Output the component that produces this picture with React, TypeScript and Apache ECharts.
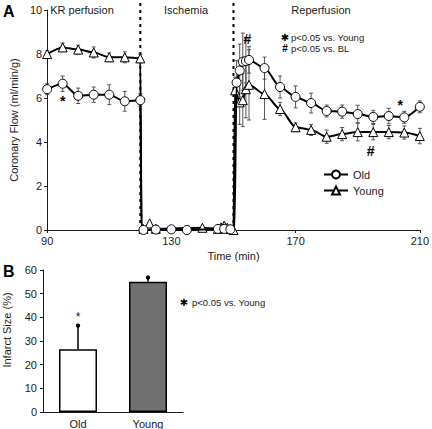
import React, { useEffect, useRef } from "react";
import * as echarts from "echarts";

// ---------- Panel A data ----------
const timeTicks = [90, 130, 170, 210];
const phaseLabels = ["KR perfusion", "Ischemia", "Reperfusion"];
const ischemiaBounds = [120, 150];
const connectorTimes = [120.4, 150.3];

const oldTime = [90, 95, 100, 105, 110, 115, 120, 120.4, 121, 125, 130, 135, 145, 147, 149, 150.3, 151, 152, 153, 154, 155, 160, 165, 170, 175, 180, 185, 190, 195, 200, 205, 210];
const oldFlow = [6.4, 6.65, 6.1, 6.15, 6.15, 5.85, 5.9, 0, 0, 0.02, 0.03, 0, 0.05, 0.05, 0.03, 0, 6.7, 7.25, 7.65, 7.68, 7.73, 7.36, 6.5, 6.05, 5.77, 5.41, 5.38, 5.27, 5.14, 5.18, 5.12, 5.6];
const oldErr = [0.25, 0.35, 0.35, 0.35, 0.45, 0.45, 0.3, 0, 0, 0, 0, 0, 0, 0, 0, 0, 1.0, 1.2, 1.3, 1.0, 0.6, 0.5, 0.5, 0.5, 0.45, 0.27, 0.3, 0.4, 0.3, 0.35, 0.27, 0.27];

const youngTime = [90, 95, 100, 105, 110, 115, 120, 120.4, 121, 123, 125, 140, 145, 146, 147, 148, 149, 150, 150.5, 152, 153, 154, 155, 160, 165, 170, 175, 180, 185, 190, 195, 200, 205, 210];
const youngFlow = [8.0, 8.3, 8.2, 8.07, 7.85, 7.85, 7.8, 0, 0.05, 0.3, 0.05, 0.1, 0.05, 0.12, 0.2, 0.1, 0.05, 0, 6.35, 5.8, 5.9, 6.4, 6.6, 6.18, 5.5, 4.67, 4.55, 4.24, 4.36, 4.45, 4.45, 4.45, 4.43, 4.27];
const youngErr = [0.15, 0.2, 0.2, 0.25, 0.2, 0.25, 0.2, 0, 0, 0, 0, 0, 0, 0, 0, 0, 0, 0, 0.6, 1.0, 1.2, 1.3, 1.6, 1.15, 0.3, 0.2, 0.25, 0.3, 0.3, 0.4, 0.35, 0.3, 0.3, 0.35];

const annoTime = [95, 154.5, 203.7, 194.2];
const annoValue = [5.85, 8.7, 5.7, 3.6];
const annoLabels = ["*", "#", "*", "#"];

// ---------- Panel B data ----------
const groups = ["Old", "Young"];
const infarct = [26.5, 55];
const infarctErr = [10, 1.8];
const barColors = ["#ffffff", "#717171"];
const infarctMarks = ["*", ""];

const FONT = "Liberation Sans, Arial, sans-serif";
const INK = "#1a1a1a";

export default function App() {
  const ref = useRef<HTMLDivElement>(null);

  useEffect(() => {
    document.body.style.margin = "0";
    const chart = echarts.init(ref.current!, null, { renderer: "svg" });

    const mkLine = (t: number[], v: number[]) =>
      t.map((x, i) =>
        connectorTimes.includes(x) ? { value: [x, v[i]], symbol: "none" } : { value: [x, v[i]] }
      );
    const mkErr = (t: number[], v: number[], e: number[]) =>
      t.map((x, i) => [x, v[i], e[i]]).filter((d) => d[2] > 0);

    const errRender = (params: any, api: any) => {
      const x = api.value(0), y = api.value(1), e = api.value(2);
      const top = api.coord([x, y + e]);
      const bot = api.coord([x, y - e]);
      const w = 2;
      const st = { stroke: "#444", lineWidth: 0.9 };
      return {
        type: "group",
        children: [
          { type: "line", shape: { x1: top[0], y1: top[1], x2: bot[0], y2: bot[1] }, style: st },
          { type: "line", shape: { x1: top[0] - w, y1: top[1], x2: top[0] + w, y2: top[1] }, style: st },
          { type: "line", shape: { x1: bot[0] - w, y1: bot[1], x2: bot[0] + w, y2: bot[1] }, style: st },
        ],
      };
    };

    const axisCommon = {
      axisLine: { show: true, lineStyle: { color: INK, width: 1 } },
      axisTick: { show: true, inside: false, length: 3, lineStyle: { color: INK } },
      axisLabel: { color: INK, fontSize: 11, fontFamily: FONT },
      splitLine: { show: false },
    };

    const symStyle = { color: "#fff", borderColor: "#000", borderWidth: 1 };

    chart.setOption({
      animation: false,
      textStyle: { fontFamily: FONT },
      grid: [
        { left: 38, right: 9, top: 10, height: 220 },
        { left: 43, width: 140, top: 270, height: 142 },
      ],
      xAxis: [
        {
          gridIndex: 0,
          type: "value",
          min: timeTicks[0],
          max: timeTicks[timeTicks.length - 1],
          interval: timeTicks[1] - timeTicks[0],
          name: "Time (min)",
          nameLocation: "middle",
          nameGap: 15,
          nameTextStyle: { color: INK, fontSize: 11, fontFamily: FONT },
          ...axisCommon,
          axisLabel: { ...axisCommon.axisLabel, margin: 5 },
        },
        {
          gridIndex: 1,
          type: "category",
          data: groups,
          ...axisCommon,
          axisTick: { show: false },
          axisLabel: { ...axisCommon.axisLabel, margin: 6 },
        },
      ],
      yAxis: [
        {
          gridIndex: 0,
          type: "value",
          min: 0,
          max: 10,
          interval: 2,
          name: "Coronary Flow (ml/min/g)",
          nameLocation: "middle",
          nameGap: 23,
          nameTextStyle: { color: INK, fontSize: 11, fontFamily: FONT },
          ...axisCommon,
          axisLabel: { ...axisCommon.axisLabel, margin: 5 },
        },
        {
          gridIndex: 1,
          type: "value",
          min: 0,
          max: 60,
          interval: 10,
          ...axisCommon,
          axisLabel: { ...axisCommon.axisLabel, margin: 6 },
        },
      ],
      legend: {
        data: ["Old", "Young"],
        orient: "vertical",
        left: 318,
        top: 164,
        itemWidth: 24,
        itemHeight: 10,
        itemGap: 5,
        textStyle: { color: INK, fontSize: 11, fontFamily: FONT, fontWeight: "normal" },
      },
      series: [
        {
          type: "custom",
          name: "dividers",
          xAxisIndex: 0,
          yAxisIndex: 0,
          z: 1,
          silent: true,
          data: ischemiaBounds.map((b) => [b, 0]),
          renderItem: (params: any, api: any) => {
            const p = api.coord([api.value(0), 0]);
            return {
              type: "line",
              shape: { x1: p[0], y1: p[1], x2: p[0], y2: 0 },
              style: { stroke: "#000", lineWidth: 2, lineDash: [3, 4] },
            };
          },
        },
        {
          type: "custom",
          name: "oldErr",
          xAxisIndex: 0,
          yAxisIndex: 0,
          z: 2,
          silent: true,
          data: mkErr(oldTime, oldFlow, oldErr),
          renderItem: errRender,
        },
        {
          type: "custom",
          name: "youngErr",
          xAxisIndex: 0,
          yAxisIndex: 0,
          z: 2,
          silent: true,
          data: mkErr(youngTime, youngFlow, youngErr),
          renderItem: errRender,
        },
        {
          type: "line",
          name: "Young",
          xAxisIndex: 0,
          yAxisIndex: 0,
          z: 3,
          data: mkLine(youngTime, youngFlow),
          symbol: "triangle",
          symbolSize: 9,
          smooth: 0.25,
          smoothMonotone: "x",
          lineStyle: { color: "#000", width: 2 },
          itemStyle: symStyle,
        },
        {
          type: "line",
          name: "Old",
          xAxisIndex: 0,
          yAxisIndex: 0,
          z: 4,
          data: mkLine(oldTime, oldFlow),
          symbol: "circle",
          symbolSize: 9,
          smooth: 0.25,
          smoothMonotone: "x",
          lineStyle: { color: "#000", width: 2 },
          itemStyle: symStyle,
        },
        {
          type: "custom",
          name: "annotations",
          xAxisIndex: 0,
          yAxisIndex: 0,
          z: 5,
          silent: true,
          data: annoTime.map((t, i) => [t, annoValue[i]]),
          renderItem: (params: any, api: any) => {
            const p = api.coord([api.value(0), api.value(1)]);
            return {
              type: "text",
              x: p[0],
              y: p[1],
              style: {
                text: annoLabels[params.dataIndex],
                fill: "#000",
                font: `bold 14px ${FONT}`,
                align: "center",
                verticalAlign: "middle",
              },
            };
          },
        },
        {
          type: "bar",
          name: "infarct",
          xAxisIndex: 1,
          yAxisIndex: 1,
          barWidth: 38,
          data: infarct.map((v, i) => ({
            value: v,
            itemStyle: { color: barColors[i], borderColor: "#000", borderWidth: 1.5 },
          })),
        },
        {
          type: "custom",
          name: "infarctErr",
          xAxisIndex: 1,
          yAxisIndex: 1,
          z: 5,
          silent: true,
          data: groups.map((g, i) => [i, infarct[i], infarctErr[i]]),
          renderItem: (params: any, api: any) => {
            const i = params.dataIndex;
            const x = api.value(0), y = api.value(1), e = api.value(2);
            const base = api.coord([x, y]);
            const top = api.coord([x, y + e]);
            const star = api.coord([x, y + e + 3.8]);
            return {
              type: "group",
              children: [
                { type: "line", shape: { x1: base[0], y1: base[1], x2: top[0], y2: top[1] }, style: { stroke: "#000", lineWidth: 1.5 } },
                { type: "circle", shape: { cx: top[0], cy: top[1], r: 2.2 }, style: { fill: "#000" } },
                {
                  type: "text",
                  x: star[0],
                  y: star[1],
                  style: { text: infarctMarks[i], fill: "#222", font: `12px ${FONT}`, align: "center", verticalAlign: "middle" },
                },
              ],
            };
          },
        },
      ],
      graphic: [
        { type: "text", x: 3, y: 3, style: { text: "A", font: `bold 16px ${FONT}`, fill: "#000" } },
        { type: "text", x: 3, y: 263, style: { text: "B", font: `bold 16px ${FONT}`, fill: "#000" } },
        { type: "text", x: 82, y: 10, style: { text: phaseLabels[0], font: `11px ${FONT}`, fill: INK, align: "center", verticalAlign: "middle" } },
        { type: "text", x: 186, y: 10, style: { text: phaseLabels[1], font: `11px ${FONT}`, fill: INK, align: "center", verticalAlign: "middle" } },
        { type: "text", x: 321, y: 10, style: { text: phaseLabels[2], font: `11px ${FONT}`, fill: INK, align: "center", verticalAlign: "middle" } },
        { type: "text", x: 285, y: 37, style: { text: "✱", font: `10px DejaVu Sans, ${FONT}`, fill: "#000", align: "center", verticalAlign: "middle" } },
        { type: "text", x: 291, y: 37, style: { text: "p<0.05 vs. Young", font: `9.5px ${FONT}`, fill: INK, verticalAlign: "middle" } },
        { type: "text", x: 285, y: 48, style: { text: "#", font: `bold 10px ${FONT}`, fill: "#000", align: "center", verticalAlign: "middle" } },
        { type: "text", x: 291, y: 48, style: { text: "p<0.05 vs. BL", font: `9.5px ${FONT}`, fill: INK, verticalAlign: "middle" } },
        { type: "text", x: 7, y: 330, rotation: Math.PI / 2, style: { text: "Infarct Size (%)", font: `11px ${FONT}`, fill: INK, align: "center", verticalAlign: "middle" } },
        { type: "text", x: 184, y: 302, style: { text: "✱", font: `10px DejaVu Sans, ${FONT}`, fill: "#000", align: "center", verticalAlign: "middle" } },
        { type: "text", x: 192, y: 302, style: { text: "p<0.05 vs. Young", font: `9.5px ${FONT}`, fill: INK, verticalAlign: "middle" } },
      ],
    });

    return () => chart.dispose();
  }, []);

  return <div ref={ref} style={{ position: "absolute", left: 0, top: 0, width: 432, height: 429 }} />;
}
